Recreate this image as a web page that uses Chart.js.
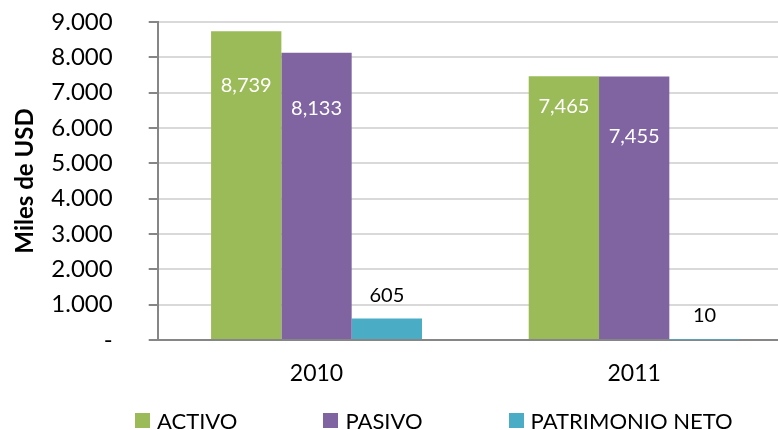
<!DOCTYPE html>
<html>
<head>
<meta charset="utf-8">
<title>Activo, Pasivo y Patrimonio</title>
<script src="https://cdn.jsdelivr.net/npm/chart.js@4.4.1/dist/chart.umd.min.js"></script>
<style>
  html, body { margin: 0; padding: 0; background: #fff; overflow: hidden; }
  #wrap { position: relative; width: 778px; height: 430px; overflow: hidden; }
  #box { position: absolute; left: 0; top: 0; width: 795px; height: 430px; }
  #legend {
    position: absolute; left: 135px; top: 408px; height: 24px;
    display: flex; align-items: center; gap: 86px;
    font-family: Lato, sans-serif; font-size: 22px; color: #000; white-space: nowrap;
  }
  #legend .item { display: flex; align-items: center; }
  #legend i { display: inline-block; width: 15px; height: 15px; margin-right: 7px; }
</style>
</head>
<body>
<div id="wrap">
  <div id="box"><canvas id="balance" width="795" height="430"></canvas></div>
  <div id="legend"></div>
</div>
<script>
// Data
var years = ["2010", "2011"];
var seriesNames = ["ACTIVO", "PASIVO", "PATRIMONIO NETO"];
var activo = [8739, 7465];
var pasivo = [8133, 7455];
var patrimonio = [605, 10];
var yTickLabels = ["-", "1.000", "2.000", "3.000", "4.000", "5.000", "6.000", "7.000", "8.000", "9.000"];

var colors = ["#9BBB59", "#8064A2", "#4BACC6"];
// vertical offset of each value label from the bar top (px)
var labelShift = [[54, 30], [56, 60], [-23, -24]];

// Value labels drawn on the bars
var valueLabels = {
    id: "valueLabels",
    afterDatasetsDraw: function (chart) {
        var ctx = chart.ctx;
        ctx.save();
        ctx.font = "20px Lato";
        ctx.textAlign = "center";
        ctx.textBaseline = "middle";
        chart.data.datasets.forEach(function (ds, i) {
            chart.getDatasetMeta(i).data.forEach(function (bar, j) {
                var shift = labelShift[i][j];
                ctx.fillStyle = shift > 0 ? "#ffffff" : "#000000";
                ctx.fillText(ds.data[j].toLocaleString("en-US"), bar.x, bar.y + shift);
            });
        });
        ctx.restore();
    }
};

var ctx = document.getElementById("balance").getContext("2d");
var balanceChart = new Chart(ctx, {
    type: "bar",
    data: {
        labels: years,
        datasets: [
            { label: seriesNames[0], data: activo, backgroundColor: colors[0] },
            { label: seriesNames[1], data: pasivo, backgroundColor: colors[1] },
            { label: seriesNames[2], data: patrimonio, backgroundColor: colors[2] },
        ],
    },
    options: {
        responsive: false,
        animation: false,
        categoryPercentage: 0.664,
        barPercentage: 1,
        layout: { padding: { left: 7, right: 2, top: 22, bottom: 42 } },
        plugins: {
            legend: { display: false },
            tooltip: { enabled: false },
        },
        scales: {
            x: {
                grid: { display: false, drawTicks: false },
                border: { color: "#868686", width: 2 },
                ticks: { color: "#000", padding: 20, font: { family: "Lato", size: 23 } },
                afterFit: function (scale) { scale.height = 48; },
            },
            y: {
                min: 0,
                max: 9000,
                ticks: {
                    stepSize: 1000,
                    padding: 36,
                    color: "#000",
                    font: { family: "Lato", size: 24 },
                    callback: function (value, index) { return yTickLabels[index]; },
                },
                grid: { color: "#d9d9d9", lineWidth: 2, tickColor: "#868686", tickLength: 9 },
                border: { color: "#868686", width: 2 },
                title: {
                    display: true,
                    text: "Miles de USD",
                    color: "#000",
                    font: { family: "Lato", size: 24, weight: "bold" },
                },
                afterFit: function (scale) {
                    scale.width = 150.7;
                    scale.paddingTop = 0;
                    scale.paddingBottom = 0;
                },
            },
        },
    },
    plugins: [valueLabels],
});

// Legend
var legendEl = document.getElementById("legend");
seriesNames.forEach(function (name, i) {
    var item = document.createElement("span");
    item.className = "item";
    var swatch = document.createElement("i");
    swatch.style.background = colors[i];
    item.appendChild(swatch);
    item.appendChild(document.createTextNode(name));
    legendEl.appendChild(item);
});
</script>
</body>
</html>
